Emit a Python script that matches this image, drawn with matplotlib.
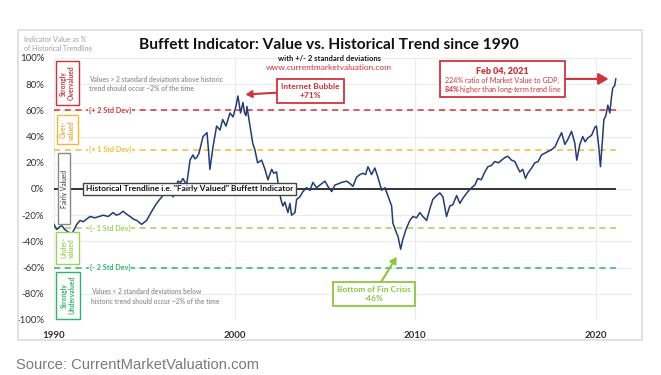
import matplotlib.pyplot as plt
from matplotlib.patches import Rectangle

# Buffett indicator, % above/below historical trendline
years = [
    1990.0, 1990.15, 1990.3, 1990.43, 1990.6, 1990.8, 1991.0, 1991.26, 1991.44, 1991.62,
    1991.8, 1992.0, 1992.27, 1992.5, 1992.73, 1993.0, 1993.27, 1993.45, 1993.65, 1993.82,
    1994.0, 1994.21, 1994.4, 1994.58, 1994.85, 1995.13, 1995.41, 1995.68, 1995.85, 1996.03,
    1996.2, 1996.42, 1996.59, 1996.75, 1996.86, 1997.0, 1997.14, 1997.34, 1997.53, 1997.69,
    1997.8, 1997.9, 1998.02, 1998.25, 1998.47, 1998.55, 1998.63, 1998.8, 1999.0, 1999.19,
    1999.34, 1999.52, 1999.74, 1999.91, 2000.07, 2000.18, 2000.33, 2000.46, 2000.55, 2000.63,
    2000.68, 2000.85, 2001.0, 2001.12, 2001.27, 2001.49, 2001.68, 2001.84, 2002.05, 2002.17,
    2002.32, 2002.4, 2002.56, 2002.67, 2002.78, 2002.95, 2003.06, 2003.15, 2003.34, 2003.43,
    2003.61, 2003.78, 2003.98, 2004.17, 2004.33, 2004.54, 2004.72, 2005.0, 2005.16, 2005.37,
    2005.55, 2005.75, 2005.92, 2006.2, 2006.4, 2006.55, 2006.75, 2006.93, 2007.1, 2007.25,
    2007.38, 2007.58, 2007.76, 2007.93, 2008.14, 2008.32, 2008.48, 2008.69, 2008.76, 2008.97,
    2009.04, 2009.19, 2009.3, 2009.48, 2009.7, 2009.87, 2010.07, 2010.25, 2010.42, 2010.63,
    2010.81, 2010.97, 2011.18, 2011.36, 2011.53, 2011.73, 2011.91, 2012.08, 2012.29, 2012.47,
    2012.64, 2012.91, 2013.12, 2013.3, 2013.46, 2013.65, 2013.85, 2014.02, 2014.22, 2014.4,
    2014.6, 2014.78, 2014.96, 2015.12, 2015.33, 2015.51, 2015.68, 2015.79, 2015.95, 2016.1,
    2016.23, 2016.44, 2016.62, 2016.8, 2016.99, 2017.27, 2017.54, 2017.73, 2017.89, 2018.1,
    2018.28, 2018.45, 2018.65, 2018.83, 2018.94, 2019.11, 2019.27, 2019.4, 2019.55, 2019.76,
    2019.94, 2020.03, 2020.16, 2020.25, 2020.36, 2020.44, 2020.55, 2020.66, 2020.77, 2020.86,
    2020.93, 2021.04, 2021.1,
]
values = [
    -27, -31, -29, -28, -31, -33, -34, -27, -24, -25,
    -23, -21, -22, -21, -20, -21, -18, -20, -19, -17,
    -19, -21, -23, -24, -27, -24, -17, -11, -8, -5,
    -3, -1, -6, 2, 6, 5, 8, 3, 22, 26,
    23, 24, 27, 40, 43, 30, 15, 32, 48, 45,
    53, 48, 58, 55, 63, 71, 58, 66, 58, 56,
    63, 48, 35, 30, 20, 22, 15, 7, 15, 12,
    13, 5, -8, -13, -10, -18, -11, -20, -18, -8,
    -6, -2, 1, -1, 5, 1, 3, 6, 2, -2,
    3, 4, 5, 6, 4, 2, 9, 11, 12, 11,
    17, 11, 16, 9, -1, 1, -5, -13, -26, -34,
    -36, -46, -39, -31, -24, -21, -22, -18, -21, -24,
    -15, -8, -5, -3, -6, -21, -13, -12, -5, -11,
    -7, -2, 1, 3, 8, 7, 13, 17, 18, 21,
    20, 22, 24, 25, 22, 21, 16, 13, 15, 8,
    12, 16, 20, 21, 26, 28, 30, 32, 37, 43,
    34, 38, 44, 35, 22, 34, 40, 36, 39, 41,
    47, 48, 32, 17, 37, 53, 56, 64, 58, 70,
    77, 79, 84,
]

ytick_vals = [100, 80, 60, 40, 20, 0, -20, -40, -60, -80, -100]
ytick_labels = [f"{v}%" for v in ytick_vals]
xtick_years = [1990, 2000, 2010, 2020]

band_levels = [60, 30, -30, -60]
band_labels = ["{+ 2 Std Dev}", "{+ 1 Std Dev}", "{- 1 Std Dev}", "{- 2 Std Dev}"]
band_colors = ["#d2333b", "#f4b934", "#9fd05a", "#2fb36e"]

zone_labels = ["Strongly\nOvervalued", "Over-\nvalued", "Fairly Valued", "Under-\nvalued", "Strongly\nUndervalued"]
zone_colors = ["#d2333b", "#f4a93a", "#333333", "#9fd05a", "#2fb36e"]
zone_edges = ["#d2333b", "#f4b934", "#888888", "#9fd05a", "#2fb36e"]
# frame extents (x0, x1, y0, y1) in axis units
zone_frames = [(1990.11, 1991.38, 64, 97.7), (1990.16, 1991.33, 34, 56.5), (1990.22, 1990.89, -26.7, 27.5),
               (1990.11, 1991.38, -57, -33), (1990.11, 1991.44, -99, -63)]

RED = "#d2333b"
LGREEN = "#8cc63f"
LINE = "#223c78"

plt.rcParams["font.family"] = ["Lato", "DejaVu Sans"]
plt.rcParams["mathtext.fontset"] = "custom"
plt.rcParams["mathtext.bf"] = "Lato:bold"
plt.rcParams["mathtext.rm"] = "Lato"

fig = plt.figure(figsize=(6.61, 3.75), dpi=100)
fig.patches.append(Rectangle((0.0272, 0.0933), 0.944, 0.8267, transform=fig.transFigure,
                             facecolor="none", edgecolor="#dddddd", lw=1.2))

ax = fig.add_axes([0.0817, 0.1467, 0.8745, 0.6987])
ax.set_xlim(1990, 2022)
ax.set_ylim(-100, 100)
for s in ax.spines.values():
    s.set_visible(False)
ax.set_yticks(ytick_vals)
ax.set_yticklabels(ytick_labels, fontsize=7, color="#333333")
ax.set_xticks(xtick_years)
ax.set_xticklabels([str(y) for y in xtick_years], fontsize=7, fontweight="bold", color="#333333")
ax.tick_params(axis="y", length=0, pad=7)
ax.tick_params(axis="x", length=0, pad=8)
ax.grid(True, color="#ebebeb", lw=0.8)
ax.set_axisbelow(True)

end = years[-1]
for lvl, lab, col in zip(band_levels, band_labels, band_colors):
    ax.hlines(lvl, 1990, end, colors=col, linestyles=(0, (4, 3)), lw=1.1, zorder=2)
    ax.text(1993.1, lvl, lab, ha="center", va="center", fontsize=5.2, fontweight="bold", color=col,
            bbox=dict(facecolor="white", edgecolor="none", pad=0.5), zorder=3)
ax.hlines(0, 1990, end, colors="#333333", lw=1.4, zorder=2)

ax.plot(years, values, color=LINE, lw=1.1, zorder=4)

for lab, (x0, x1, y0, y1), col, ec in zip(zone_labels, zone_frames, zone_colors, zone_edges):
    ax.add_patch(Rectangle((x0, y0), x1 - x0, y1 - y0, facecolor="white", edgecolor=ec, lw=1.0,
                           zorder=5, clip_on=False))
    ax.text((x0 + x1) / 2, (y0 + y1) / 2, lab, rotation=90, ha="center", va="center", fontsize=4.8,
            fontweight="normal" if lab == "Fairly Valued" else "bold", color=col, linespacing=1.1, zorder=6)

ax.text(1997.5, 0, 'Historical Trendline i.e. "Fairly Valued" Buffett Indicator', ha="center", va="center",
        fontsize=6, fontweight="bold", color="#111111",
        bbox=dict(facecolor="white", edgecolor="#444444", lw=1.0, boxstyle="square,pad=0.35"), zorder=5)

ax.text(1991.95, 80, "Values > 2 standard deviations above historic\ntrend should occur ~2% of the time",
        ha="left", va="center", fontsize=4.8, fontweight="bold", color="#9a9a9a", linespacing=1.4)
ax.text(1992.05, -82, "Values < 2 standard deviations below\nhistoric trend should occur ~2% of the time",
        ha="left", va="center", fontsize=4.8, fontweight="bold", color="#9a9a9a", linespacing=1.4)

arrow = dict(arrowstyle="-|>,head_length=0.6,head_width=0.35", lw=1.5, shrinkA=0)

ax.annotate("Internet Bubble\n+71%", xy=(2000.45, 72), xytext=(2004.2, 75), ha="center", va="center",
            fontsize=6, fontweight="bold", color=RED, linespacing=1.3,
            bbox=dict(facecolor="white", edgecolor=RED, lw=1.3, boxstyle="square,pad=0.5"),
            arrowprops=dict(arrow, color=RED), zorder=6)

# Feb 2021 callout: frame, arrow and three text lines
ax.add_patch(Rectangle((2011.36, 70.2), 6.92, 27.5, facecolor="white", edgecolor=RED, lw=1.3, zorder=6))
ax.annotate("", xy=(2020.85, 84), xytext=(2018.28, 84), arrowprops=dict(arrow, color=RED), zorder=6)
ax.text(2014.82, 90.1, "Feb 04, 2021", ha="center", va="center", fontsize=6.5, fontweight="heavy",
        color=RED, zorder=7)
ax.text(2014.82, 83.2, "224% ratio of Market Value to GDP,", ha="center", va="center",
        fontsize=5.1, color=RED, zorder=7)
ax.text(2014.82, 76.3, r"$\bf{84\%}$ higher than long-term trend line", ha="center", va="center",
        fontsize=5.1, color=RED, zorder=7)

ax.annotate("Bottom of Fin Crisis\n-46%", xy=(2009.05, -50), xytext=(2007.7, -80), ha="center", va="center",
            fontsize=6, fontweight="bold", color=LGREEN, linespacing=1.3,
            bbox=dict(facecolor="white", edgecolor=LGREEN, lw=1.3, boxstyle="square,pad=0.5"),
            arrowprops=dict(arrow, color=LGREEN), zorder=6)

fig.text(0.498, 0.88, "Buffett Indicator: Value vs. Historical Trend since 1990", ha="center", va="center",
         fontsize=11.2, fontweight="bold", color="#111111")
fig.text(0.499, 0.843, "with +/- 2 standard deviations", ha="center", va="center",
         fontsize=5.5, fontweight="bold", color="#111111",
         bbox=dict(facecolor="white", edgecolor="none", pad=0.5), zorder=5)
fig.text(0.497, 0.819, "www.currentmarketvaluation.com", ha="center", va="center",
         fontsize=6, color=RED, bbox=dict(facecolor="white", edgecolor="none", pad=0.3), zorder=5)
fig.text(0.036, 0.882, "Indicator Value as %\nof Historical Trendline", ha="left", va="center",
         fontsize=5, color="#a0a0a0", linespacing=1.3)

fig.text(0.024, 0.027, "Source: CurrentMarketValuation.com", ha="left", va="center",
         fontsize=10.6, color="#7a7a7a", family=["Liberation Sans", "DejaVu Sans"])

fig.savefig("out.png", dpi=100)
